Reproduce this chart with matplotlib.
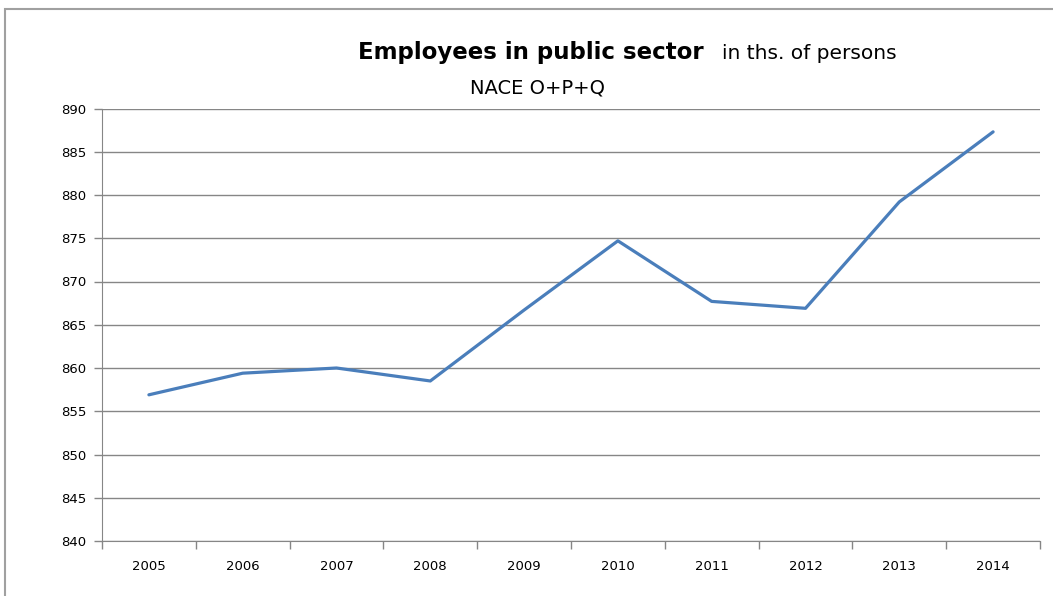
import matplotlib
matplotlib.use("Agg")
import matplotlib.pyplot as plt
from matplotlib.patches import Rectangle

# data
years = ['2005', '2006', '2007', '2008', '2009', '2010', '2011', '2012', '2013', '2014']
employees = [856.9, 859.4, 860.0, 858.5, 866.7, 874.7, 867.7, 866.9, 879.2, 887.3]
y_ticks = [840, 845, 850, 855, 860, 865, 870, 875, 880, 885, 890]

plt.rcParams['font.family'] = ['DejaVu Sans']

fig = plt.figure(figsize=(10.53, 5.96), dpi=100)
fig.patch.set_facecolor('white')

# outer chart border (cut at right and bottom like the screenshot)
fig.patches.append(Rectangle((5 / 1053, -0.2), 1.2, (596 - 9) / 596 + 0.2,
                             transform=fig.transFigure, fill=False,
                             edgecolor='#a0a0a0', linewidth=1.5))

ax = fig.add_axes([102 / 1053, 55 / 596, 938 / 1053, 432.5 / 596])
x = range(len(years))
ax.plot(x, employees, color='#4A7EBB', linewidth=2.3, solid_joinstyle='round',
        solid_capstyle='round')

ax.set_xlim(-0.5, len(years) - 0.5)
ax.set_ylim(840, 890)
ax.set_yticks(y_ticks)
ax.set_yticklabels([str(v) for v in y_ticks], fontsize=9.5)
ax.set_xticks(list(x))
ax.set_xticklabels(years, fontsize=9.5)
ax.set_xticks([i + 0.5 for i in range(-1, len(years))], minor=True)

ax.tick_params(axis='x', which='major', length=0, pad=14)
ax.tick_params(axis='x', which='minor', length=6, color='#868686', width=1)
ax.tick_params(axis='y', length=6, color='#868686', width=1, pad=5)

ax.grid(axis='y', color='#868686', linewidth=1)
ax.set_axisbelow(True)
for side in ['top', 'right']:
    ax.spines[side].set_visible(False)
ax.spines['left'].set_color('#868686')
ax.spines['bottom'].set_color('#868686')

# title pieces
t1 = fig.text(358 / 1053, 1 - 59 / 596, 'Employees in public sector', fontsize=16.5,
              fontweight='bold', ha='left', va='baseline')
fig.canvas.draw()
bb = t1.get_window_extent()
fig.text(bb.x1 / 1053 + 18 / 1053, 1 - 59 / 596, 'in ths. of persons', fontsize=14.5,
         ha='left', va='baseline')
fig.text(470 / 1053, 1 - 93 / 596, 'NACE O+P+Q', fontsize=14, ha='left', va='baseline')

fig.savefig('out.png', dpi=100)
